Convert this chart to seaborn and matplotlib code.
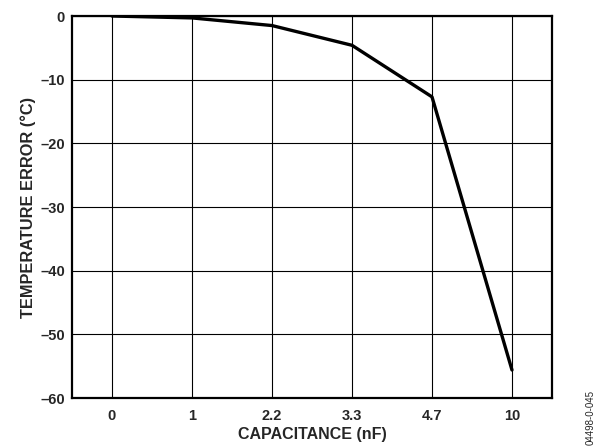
import matplotlib
matplotlib.use('Agg')
import matplotlib.pyplot as plt
import seaborn as sns
import pandas as pd

capacitance = ['0', '1', '2.2', '3.3', '4.7', '10']
temp_error = [0.0, -0.3, -1.5, -4.6, -12.7, -55.6]
y_ticks = [0, -10, -20, -30, -40, -50, -60]

sns.set_style('white')
plt.rcParams['font.family'] = ['Liberation Sans', 'DejaVu Sans']
plt.rcParams['font.weight'] = 'bold'

df = pd.DataFrame({'cap': capacitance, 'err': temp_error})

fig = plt.figure(figsize=(5.97, 4.47), dpi=100)
ax = fig.add_axes([0.1206, 0.1096, 0.8040, 0.8546])

sns.lineplot(data=df, x='cap', y='err', color='black', linewidth=2.4, ax=ax)

ax.set_xlim(-0.5, 5.5)
ax.set_ylim(-60, 0)
ax.set_yticks(y_ticks)
ax.set_yticklabels([str(v).replace('-', '\u2013') for v in y_ticks])
ax.set_xticks(range(len(capacitance)))
ax.set_xticklabels(capacitance)
ax.tick_params(axis='x', length=0, labelsize=10.5, pad=8)
ax.tick_params(axis='y', length=0, labelsize=10.5, pad=5)
for lab in ax.get_xticklabels() + ax.get_yticklabels():
    lab.set_fontweight('bold')

ax.grid(True, color='black', linewidth=0.8)
for s in ax.spines.values():
    s.set_color('black')
    s.set_linewidth(1.6)

ax.set_xlabel('CAPACITANCE (nF)', fontsize=11.5, fontweight='bold', labelpad=3)
ax.set_ylabel('TEMPERATURE ERROR (°C)', fontsize=11.8, fontweight='bold', labelpad=3)

fig.text(0.99, 0.067, '04498-0-045', rotation=90, fontsize=7, fontweight='normal',
         ha='center', va='center')

fig.savefig('out.png', dpi=100)
